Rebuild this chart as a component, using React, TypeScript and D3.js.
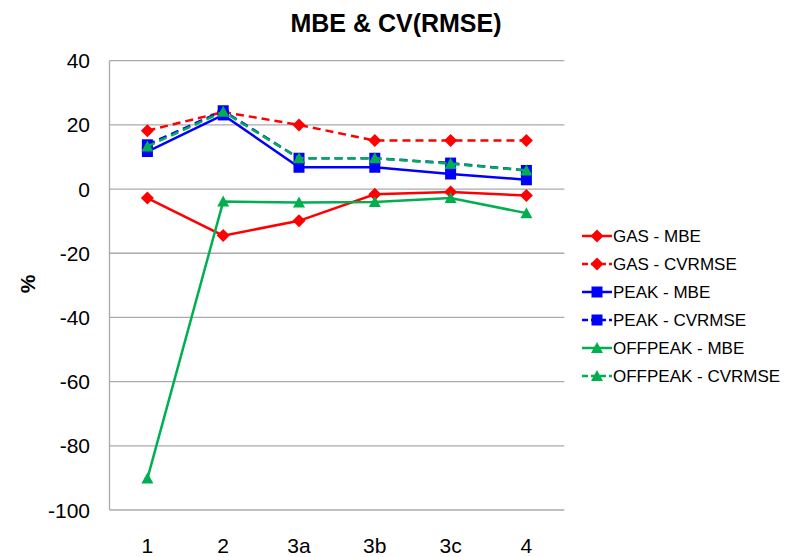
import React from "react";
import * as d3 from "d3";

const categories = ["1", "2", "3a", "3b", "3c", "4"];
const gasMBE = [-2.8, -14.5, -9.9, -1.6, -0.9, -2.0];
const gasCVRMSE = [18.2, 24, 20, 15.1, 15.1, 15.1];
const peakMBE = [11.7, 23.1, 6.8, 6.8, 4.7, 2.9];
const peakCVRMSE = [13.8, 24.4, 9.6, 9.6, 8.1, 5.8];
const offpeakMBE = [-90.2, -3.9, -4.2, -4.0, -2.8, -7.5];
const offpeakCVRMSE = [13.3, 24.1, 9.6, 9.6, 7.9, 5.8];
const yTicks = [40, 20, 0, -20, -40, -60, -80, -100];

const series = [
  { name: "GAS - MBE", values: gasMBE, color: "#FF0000", dashed: false, marker: "diamond" },
  { name: "GAS - CVRMSE", values: gasCVRMSE, color: "#FF0000", dashed: true, marker: "diamond" },
  { name: "PEAK - MBE", values: peakMBE, color: "#0000FF", dashed: false, marker: "square" },
  { name: "PEAK - CVRMSE", values: peakCVRMSE, color: "#0000FF", dashed: true, marker: "square" },
  { name: "OFFPEAK - MBE", values: offpeakMBE, color: "#00B050", dashed: false, marker: "triangle" },
  { name: "OFFPEAK - CVRMSE", values: offpeakCVRMSE, color: "#00B050", dashed: true, marker: "triangle" },
];

const W = 789, H = 557;
const plot = { left: 109.5, right: 564.3, top: 60.7, bottom: 510 };
const FONT = "'Liberation Sans', Arial, sans-serif";

function Marker({ type, x, y, color }: { type: string; x: number; y: number; color: string }) {
  if (type === "square") {
    const s = 11;
    return <rect x={x - s / 2} y={y - s / 2} width={s} height={s} fill={color} />;
  }
  if (type === "diamond") {
    const r = 6.5;
    return <path d={`M${x},${y - r}L${x + r},${y}L${x},${y + r}L${x - r},${y}Z`} fill={color} />;
  }
  const w = 6, h = 6;
  return <path d={`M${x},${y - h}L${x + w},${y + h - 1}L${x - w},${y + h - 1}Z`} fill={color} />;
}

export default function App() {
  const x = d3.scaleBand<string>().domain(categories).range([plot.left, plot.right]);
  const y = d3.scaleLinear().domain([-100, 40]).range([plot.bottom, plot.top]);
  const cx = (c: string) => (x(c) as number) + x.bandwidth() / 2;
  const line = d3
    .line<number>()
    .x((_, i) => cx(categories[i]))
    .y((v) => y(v));

  const legendX = 582;
  const legendY0 = 236;
  const legendStep = 28;

  return (
    <svg
      width={W}
      height={H}
      style={{ position: "absolute", left: 0, top: 0, background: "#fff" }}
      fontFamily={FONT}
    >
      <rect width={W} height={H} fill="#fff" />
      <text x={396} y={32} textAnchor="middle" fontSize={25} fontWeight="bold" fill="#000">
        MBE &amp; CV(RMSE)
      </text>
      {yTicks.map((t) => (
        <g key={t}>
          <line x1={plot.left} x2={plot.right} y1={y(t)} y2={y(t)} stroke="#AAAAAA" strokeWidth={1.3} />
          <text x={90} y={y(t)} dy="0.36em" textAnchor="end" fontSize={21} fill="#000">
            {t}
          </text>
        </g>
      ))}
      <line x1={plot.left} x2={plot.left} y1={plot.top} y2={plot.bottom} stroke="#AAAAAA" strokeWidth={1.3} />
      {categories.map((c) => (
        <text key={c} x={cx(c)} y={553} textAnchor="middle" fontSize={21} fill="#000">
          {c}
        </text>
      ))}
      <text
        transform={`translate(27,284) rotate(-90)`}
        textAnchor="middle"
        dy="0.36em"
        fontSize={21}
        fontWeight="bold"
        fill="#000"
      >
        %
      </text>
      {series.map((s) => (
        <g key={s.name}>
          <path
            d={line(s.values) as string}
            fill="none"
            stroke={s.color}
            strokeWidth={2.5}
            strokeDasharray={s.dashed ? "8,5" : undefined}
          />
          {s.values.map((v, i) => (
            <Marker key={i} type={s.marker} x={cx(categories[i])} y={y(v)} color={s.color} />
          ))}
        </g>
      ))}
      {series.map((s, i) => {
        const ly = legendY0 + i * legendStep;
        return (
          <g key={s.name}>
            <line
              x1={legendX}
              x2={legendX + 30}
              y1={ly}
              y2={ly}
              stroke={s.color}
              strokeWidth={2.5}
              strokeDasharray={s.dashed ? "6,3" : undefined}
            />
            <Marker type={s.marker} x={legendX + 15} y={ly} color={s.color} />
            <text x={legendX + 31} y={ly} dy="0.36em" fontSize={17} fill="#000">
              {s.name}
            </text>
          </g>
        );
      })}
    </svg>
  );
}
